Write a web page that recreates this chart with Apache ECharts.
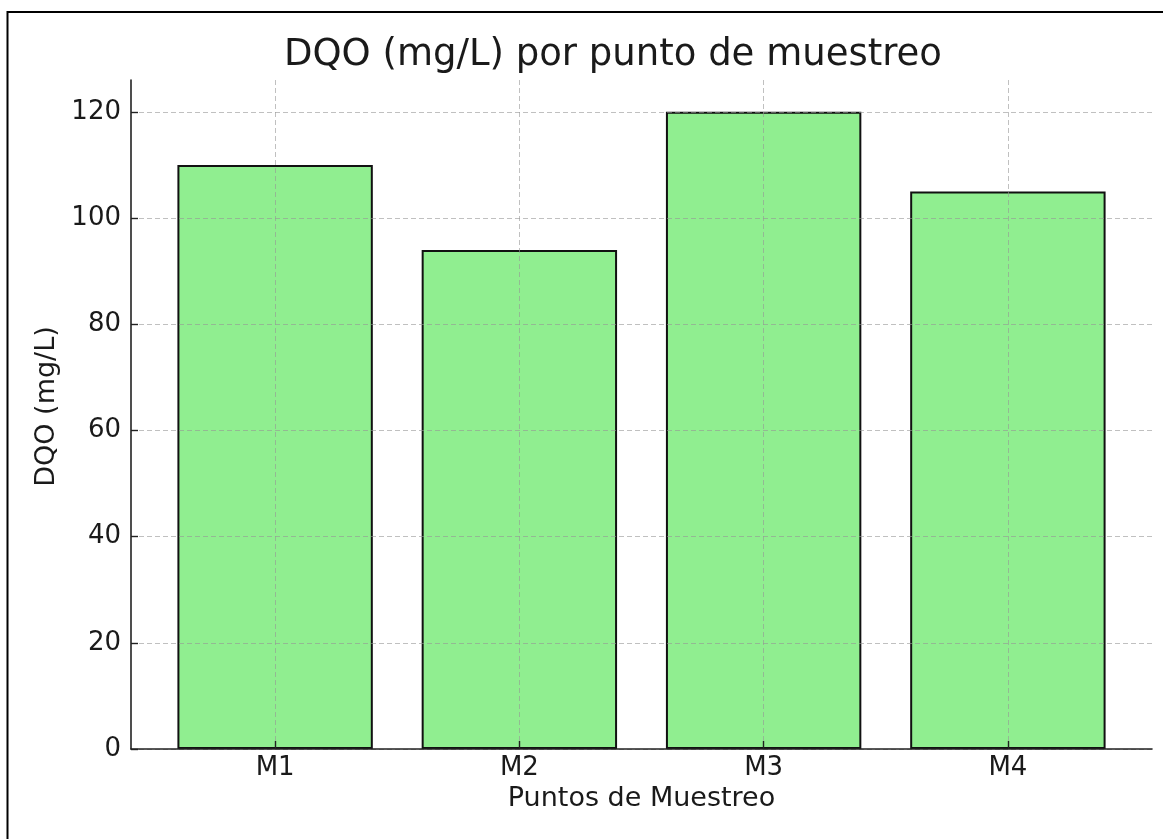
<!DOCTYPE html>
<html>
<head>
<meta charset="utf-8">
<script src="https://cdn.jsdelivr.net/npm/echarts@6/dist/echarts.min.js"></script>
<style>html,body{margin:0;padding:0;background:#fff;}#c{width:1163px;height:839px;}</style>
</head>
<body>
<div id="c"></div>
<script>
const categories = ['M1', 'M2', 'M3', 'M4'];
const dqoValues = [110, 94, 120, 105];
const yTicks = [0, 20, 40, 60, 80, 100, 120];
const catIndex = [0, 1, 2, 3];

const FONT = 'DejaVu Sans';
const chart = echarts.init(document.getElementById('c'), null, {renderer: 'canvas'});
const gridLeft = 131, gridRight = 11;
const plotW = 1163 - gridLeft - gridRight;
const xMin = -0.59, xMax = 3.59;
const barW = 0.8 * plotW / (xMax - xMin);

chart.setOption({
  backgroundColor: '#fff',
  animation: false,
  title: {
    text: 'DQO (mg/L) por punto de muestreo',
    left: 279,
    top: 32,
    textStyle: {fontFamily: FONT, fontSize: 37, fontWeight: 'normal', color: '#1a1a1a'}
  },
  graphic: [{
    type: 'rect', z: 100,
    shape: {x: 7.5, y: 12, width: 1300, height: 1000},
    style: {fill: 'none', stroke: '#000', lineWidth: 2}
  }],
  grid: {left: gridLeft, right: gridRight, top: 80, bottom: 90},
  xAxis: {
    type: 'value', min: xMin, max: xMax, z: 5,
    name: 'Puntos de Muestreo', nameLocation: 'middle', nameGap: 35,
    nameTextStyle: {fontFamily: FONT, fontSize: 27, color: '#1a1a1a'},
    axisLine: {show: true, onZero: false, lineStyle: {color: '#222', width: 1.6}},
    axisTick: {show: true, inside: true, length: 8, customValues: catIndex, lineStyle: {color: '#222', width: 1.4}},
    axisLabel: {customValues: catIndex, formatter: v => categories[Math.round(v)] || '', fontFamily: FONT, fontSize: 26, color: '#1a1a1a', margin: 6},
    splitLine: {show: true, lineStyle: {color: 'rgba(150,150,150,0.6)', type: [5, 3], width: 1}}
  },
  yAxis: {
    type: 'value', min: 0, max: 126, z: 5,
    name: 'DQO (mg/L)', nameLocation: 'middle', nameGap: 65,
    nameTextStyle: {fontFamily: FONT, fontSize: 27, color: '#1a1a1a', padding: [0, 0, 0, 16]},
    axisLine: {show: true, onZero: false, lineStyle: {color: '#222', width: 1.6}},
    axisTick: {show: true, inside: true, length: 7, customValues: yTicks, lineStyle: {color: '#222', width: 1.4}},
    axisLabel: {customValues: yTicks, fontFamily: FONT, fontSize: 26, color: '#1a1a1a', margin: 10},
    splitLine: {show: true, lineStyle: {color: 'rgba(150,150,150,0.6)', type: [5, 3], width: 1}}
  },
  series: [{
    type: 'bar',
    barWidth: barW,
    data: dqoValues.map((v, i) => [i, v]),
    itemStyle: {color: '#90EE90', borderColor: '#111', borderWidth: 2}
  }]
});
</script>
</body>
</html>
